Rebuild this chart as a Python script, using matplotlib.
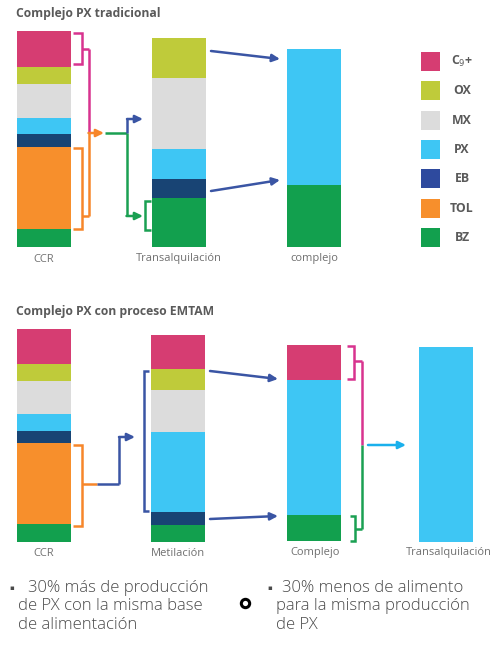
import matplotlib
matplotlib.use('Agg')
import matplotlib.pyplot as plt

plt.rcParams['font.family'] = ['Open Sans', 'DejaVu Sans']

# components, top to bottom of each stack
components = ['C$_9$+', 'OX', 'MX', 'PX', 'EB', 'TOL', 'BZ']
seg_colors = ['#D63D72', '#BFCB3A', '#DCDCDC', '#3EC6F4', '#184474', '#F78F2C', '#12A04E']
legend_colors = ['#D63D72', '#BFCB3A', '#DCDCDC', '#3EC6F4', '#2E4A9E', '#F78F2C', '#12A04E']

# segment heights (px-ish units)
ccr_trad = [36, 17, 34, 16, 13, 82, 18]
transalq_trad = [0, 40, 71, 30, 19, 0, 49]
complejo_trad = [0, 0, 0, 136, 0, 0, 62]

ccr_emtam = [35, 17, 33, 17, 12, 81, 18]
metil_emtam = [34, 21, 42, 80, 13, 0, 17]
complejo_emtam = [35, 0, 0, 135, 0, 0, 26]
transalq_emtam = [0, 0, 0, 195, 0, 0, 0]

labels_trad = ['CCR', 'Transalquilación', 'complejo']
labels_emtam = ['CCR', 'Metilación', 'Complejo', 'Transalquilación']

title_trad = 'Complejo PX tradicional'
title_emtam = 'Complejo PX con proceso EMTAM'

note_left = ['30% más de producción', 'de PX con la misma base', 'de alimentación']
note_right = ['30% menos de alimento', 'para la misma producción', 'de PX']

PINK = '#D8338F'
ORANGE = '#F7862A'
GREEN = '#1AA052'
BLUE = '#3A55A4'
CYAN = '#1AB0EC'
TXT = '#5A5A5A'

fig = plt.figure(figsize=(4.92, 6.52), dpi=100)
ax = fig.add_axes([0, 0, 1, 1])
ax.set_xlim(0, 492)
ax.set_ylim(652, 0)
ax.axis('off')

BW = 54


def stack(x, vals, base):
    """draw a stacked bar growing upward from base, return span of each segment"""
    spans = []
    cum = 0
    for v, c in zip(vals[::-1], seg_colors[::-1]):
        if v > 0:
            ax.bar(x, v, bottom=base - cum - v, width=BW, align='edge', color=c, lw=0)
        spans.append((base - cum - v, base - cum))
        cum += v
    return spans[::-1]


def line(xs, ys, c, lw=1.8):
    ax.plot(xs, ys, color=c, lw=lw, solid_capstyle='butt', solid_joinstyle='miter')


def arrow(p0, p1, c, lw=1.8):
    ax.annotate('', xy=p1, xytext=p0,
                arrowprops=dict(arrowstyle='-|>,head_length=0.45,head_width=0.22',
                                color=c, lw=lw, shrinkA=0, shrinkB=0))


def bracket_right(x0, x1, y0, y1, c):
    line([x0, x1, x1, x0], [y0, y0, y1, y1], c)


def bracket_left(x0, x1, y0, y1, c):
    line([x1, x0, x0, x1], [y0, y0, y1, y1], c)


# ---------- top: traditional ----------
ax.text(16, 13, title_trad, fontsize=8.7, fontweight='bold', color=TXT, va='center')
s_ccr = stack(17, ccr_trad, 247)
s_tr = stack(152, transalq_trad, 247)
s_cx = stack(287, complejo_trad, 247)
for xc, lab in zip([44, 179, 314], labels_trad):
    ax.text(xc, 259, lab, fontsize=8, color='#707070', ha='center', va='center')

# C9+ bracket and TOL bracket
y0, y1 = s_ccr[0][0] + 2, s_ccr[0][1] - 3
bracket_right(73, 82, y0, y1, PINK)
ym = (y0 + y1) / 2
line([82, 89], [ym, ym], PINK)
line([89, 89], [ym, 133], PINK)
y0, y1 = s_ccr[5][0] + 1, s_ccr[5][1]
bracket_right(73, 82, y0, y1, ORANGE)
line([82, 88.5], [216, 216], ORANGE)
line([88.5, 88.5], [216, 133], ORANGE)
arrow((88.5, 133), (104, 133), ORANGE)
line([105, 126.5], [133, 133], GREEN)
line([126.5, 126.5], [133, 216], GREEN)
arrow((126.5, 216), (143, 216), GREEN)
line([127, 127], [133, 119], BLUE)
arrow((127, 119), (143, 119), BLUE)
# BZ bracket on transalquilacion
bracket_left(145, 151, s_tr[6][0] + 3, s_tr[6][1] - 17, GREEN)
# to complejo
arrow((211, 51), (280, 59), BLUE)
arrow((211, 191), (280, 180), BLUE)

# legend
for i, (lab, c) in enumerate(zip(components, legend_colors)):
    yy = 52 + i * 29.3
    ax.bar(421, 19, bottom=yy, width=19, align='edge', color=c, lw=0)
    ax.text(462, yy + 9.5, lab, fontsize=8.8, fontweight='bold', color=TXT,
            ha='center', va='center')

# ---------- bottom: EMTAM ----------
ax.text(16, 312, title_emtam, fontsize=8.7, fontweight='bold', color=TXT, va='center')
e_ccr = stack(17, ccr_emtam, 542)
e_me = stack(151, metil_emtam, 542)
e_cx = stack(287, complejo_emtam, 541)
e_tr = stack(419, transalq_emtam, 542)
for xc, lab in zip([44, 178, 315], labels_emtam[:3]):
    ax.text(xc, 553, lab, fontsize=8, color='#707070', ha='center', va='center')
ax.text(406, 553, labels_emtam[3], fontsize=8, color='#707070', ha='left', va='center')

y0, y1 = e_ccr[5][0] + 2, e_ccr[5][1] + 2
bracket_right(73, 82, y0, y1, ORANGE)
line([82, 97], [484, 484], ORANGE)
line([97, 119], [484, 484], BLUE)
line([119, 119], [484, 437], BLUE)
arrow((119, 437), (135, 437), BLUE)
bracket_left(144, 149, e_me[1][0] + 2, e_me[3][1] - 1, BLUE)
arrow((210, 371), (278, 379), BLUE)
arrow((210, 519), (278, 516), BLUE)

y0, y1 = e_cx[0][0] + 1, e_cx[0][1] - 1
bracket_right(347, 354, y0, y1, PINK)
line([354, 362], [361, 361], PINK)
line([362, 362], [361, 445], PINK)
line([362, 362], [445, 529], GREEN)
bracket_right(350, 355, e_cx[6][0] + 1, e_cx[6][1], GREEN)
line([355, 362], [529, 529], GREEN)
arrow((368, 445), (406, 445), CYAN)

# ---------- notes ----------
NOTE = '#4A4A4A'
for i, t in enumerate(note_left):
    ax.text(28 if i == 0 else 18, 588 + i * 18.5, t, fontsize=12, color=NOTE,
            va='center', fontweight='light')
ax.text(12, 588, '▪', fontsize=5, color=NOTE, ha='center', va='center',
        family=['DejaVu Sans'])
for i, t in enumerate(note_right):
    ax.text(282 if i == 0 else 276, 588 + i * 18.5, t, fontsize=12, color=NOTE,
            va='center', fontweight='light')
ax.text(270, 588, '▪', fontsize=5, color=NOTE, ha='center', va='center',
        family=['DejaVu Sans'])
ax.plot([245], [603], marker='o', ms=6, mfc='white', mec='black', mew=2.2)

fig.savefig('out.png', dpi=100)
